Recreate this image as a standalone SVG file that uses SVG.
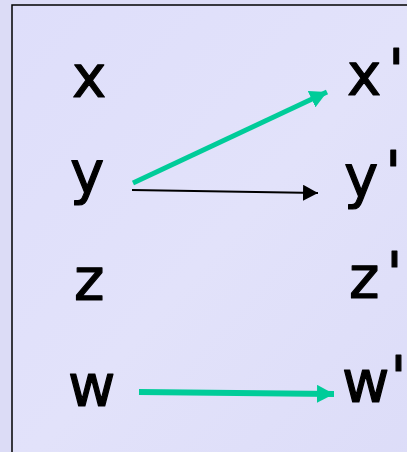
<svg xmlns="http://www.w3.org/2000/svg" width="407" height="452" viewBox="0 0 407 452">
<defs>
<linearGradient id="bg" x1="0" y1="0" x2="1" y2="1">
<stop offset="0" stop-color="#dedefa"/>
<stop offset="0.5" stop-color="#e2e2fa"/>
<stop offset="1" stop-color="#dcdcf8"/>
</linearGradient>
<marker id="hg" markerUnits="userSpaceOnUse" markerWidth="18" markerHeight="18" refX="17" refY="9" orient="auto">
<path d="M0,0 L17,9 L0,18 Z" fill="#00cc99"/>
</marker>
<marker id="hk" markerUnits="userSpaceOnUse" markerWidth="16" markerHeight="16" refX="15" refY="8" orient="auto">
<path d="M0,0 L15,8 L0,16 Z" fill="#000"/>
</marker>
</defs>
<style>
.t{font-family:"DejaVu Sans","Noto Sans",sans-serif;font-size:58px;fill:#000;stroke:#000;stroke-width:1.2;stroke-linejoin:round}
.g{stroke:#00cc99;fill:none}
.k{stroke:#000;fill:none}
</style>
<rect x="0" y="0" width="407" height="452" fill="#dcdcf6"/>
<rect x="12" y="5" width="420" height="470" fill="url(#bg)" stroke="#000" stroke-width="1.5"/>
<g id="x"><text class="t" x="72" y="97">x</text></g>
<g id="y"><text class="t" x="70" y="193">y</text></g>
<g id="z"><text class="t" x="74" y="300">z</text></g>
<g id="w"><text class="t" x="68" y="406">w</text></g>
<g id="xp"><text class="t" x="347" y="95">x<tspan dx="7" dy="-4">'</tspan></text></g>
<g id="yp"><text class="t" x="344" y="197">y<tspan dx="7" dy="-4">'</tspan></text></g>
<g id="zp"><text class="t" x="349" y="298">z<tspan dx="7" dy="-4">'</tspan></text></g>
<g id="wp"><text class="t" x="342" y="402">w<tspan dx="1" dy="-4">'</tspan></text></g>
<g id="connectors">
<line class="g" x1="133" y1="183" x2="327" y2="92" stroke-width="5" marker-end="url(#hg)"/>
<line class="k" x1="132" y1="190" x2="318" y2="193" stroke-width="2" marker-end="url(#hk)"/>
<line class="g" x1="139" y1="392" x2="334" y2="394" stroke-width="6" marker-end="url(#hg)"/>
</g>
</svg>
